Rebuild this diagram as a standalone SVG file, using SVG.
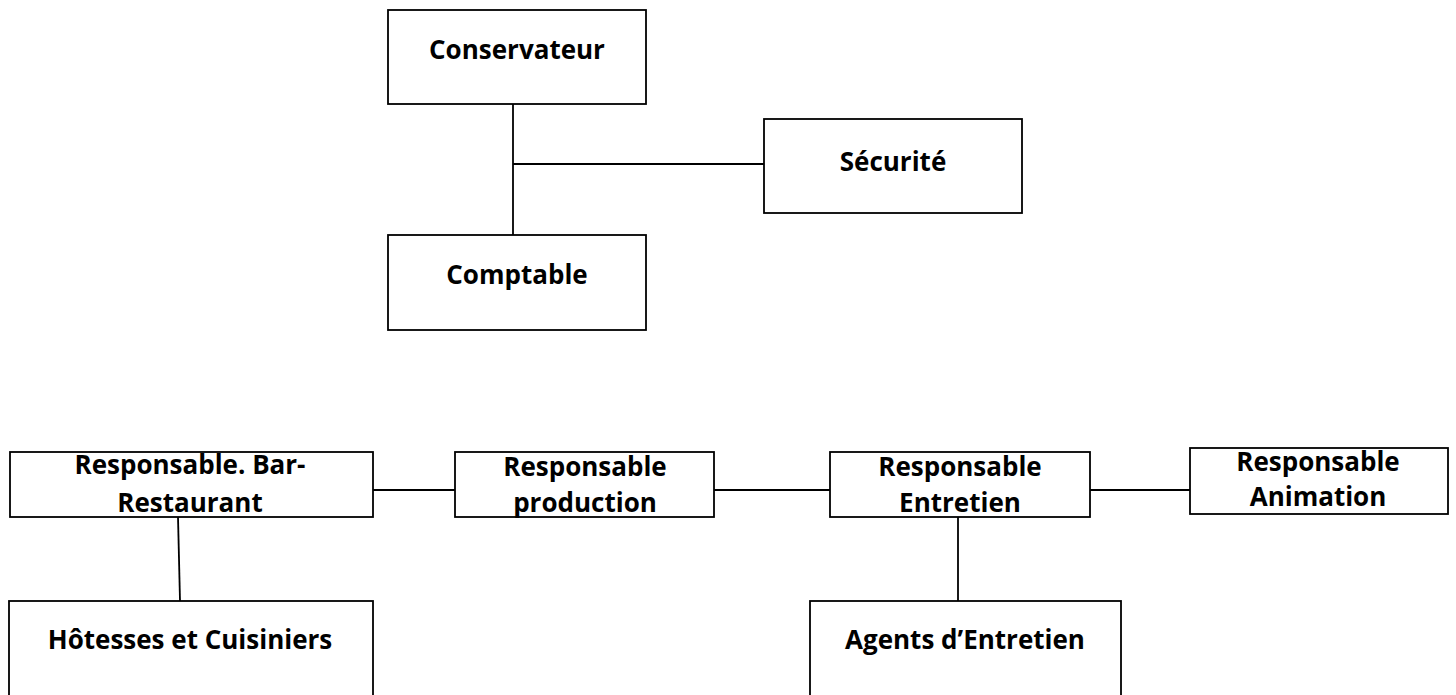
<svg xmlns="http://www.w3.org/2000/svg" width="1456" height="695" viewBox="0 0 1456 695">
<style>
.box{fill:#fff;stroke:#000;stroke-width:1.8}
.lbl{font-family:"Open Sans","Liberation Sans",sans-serif;font-weight:bold;font-size:26px;fill:#000;text-anchor:middle}
.con{stroke:#000;stroke-width:1.8;fill:none}
</style>
<rect width="1456" height="695" fill="#fff"/>
<g id="connectors">
<line class="con" x1="513" y1="104" x2="513" y2="235"/>
<line class="con" x1="513" y1="164" x2="764" y2="164"/>
<line class="con" x1="373" y1="490" x2="455" y2="490"/>
<line class="con" x1="714" y1="490" x2="830" y2="490"/>
<line class="con" x1="1090" y1="490" x2="1190" y2="490"/>
<line class="con" x1="178" y1="517" x2="180" y2="601"/>
<line class="con" x1="958" y1="517" x2="958" y2="601"/>
</g>
<g id="conservateur"><rect class="box" x="388" y="10" width="258" height="94"/><text class="lbl" x="517" y="59">Conservateur</text></g>
<g id="securite"><rect class="box" x="764" y="119" width="258" height="94"/><text class="lbl" x="893" y="171">Sécurité</text></g>
<g id="comptable"><rect class="box" x="388" y="235" width="258" height="95"/><text class="lbl" x="517" y="284">Comptable</text></g>
<g id="bar-restaurant"><rect class="box" x="10" y="452" width="363" height="65"/><text class="lbl" x="190" y="474">Responsable. Bar-</text><text class="lbl" x="190" y="512">Restaurant</text></g>
<g id="production"><rect class="box" x="455" y="452" width="259" height="65"/><text class="lbl" x="585" y="476">Responsable</text><text class="lbl" x="585" y="512">production</text></g>
<g id="entretien"><rect class="box" x="830" y="452" width="260" height="65"/><text class="lbl" x="960" y="476">Responsable</text><text class="lbl" x="960" y="512">Entretien</text></g>
<g id="animation"><rect class="box" x="1190" y="448" width="258" height="66"/><text class="lbl" x="1318" y="471">Responsable</text><text class="lbl" x="1318" y="506">Animation</text></g>
<g id="hotesses"><rect class="box" x="9" y="601" width="364" height="110"/><text class="lbl" x="190" y="649">Hôtesses et Cuisiniers</text></g>
<g id="agents"><rect class="box" x="810" y="601" width="311" height="110"/><text class="lbl" x="965" y="649">Agents d’Entretien</text></g>
</svg>
